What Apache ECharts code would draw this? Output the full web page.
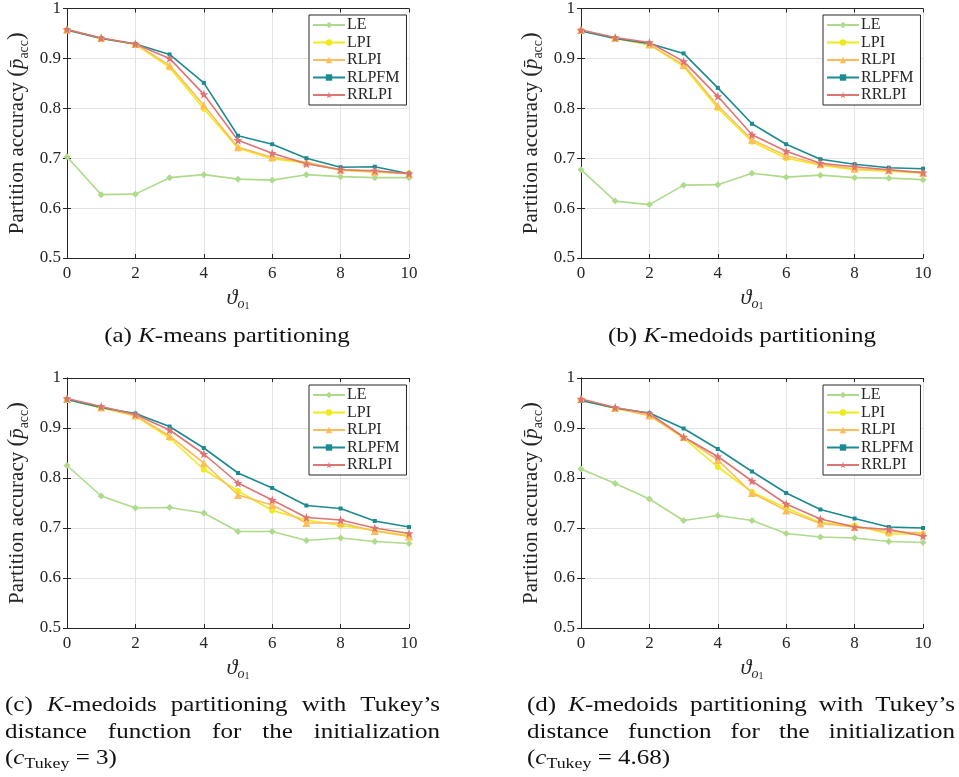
<!DOCTYPE html>
<html>
<head>
<meta charset="utf-8">
<script src="https://cdn.jsdelivr.net/npm/echarts@6/dist/echarts.min.js"></script>
<style>
html,body{margin:0;padding:0;background:#fff;}
#chart{width:959px;height:777px;}
</style>
</head>
<body>
<div id="chart"></div>
<script>
// ---------------- DATA ----------------
const thetaValues = [0, 1, 2, 3, 4, 5, 6, 7, 8, 9, 10];
const methodNames = ['LE', 'LPI', 'RLPI', 'RLPFM', 'RRLPI'];

// (a) K-means partitioning
const kmeansLE    = [0.703, 0.627, 0.628, 0.661, 0.667, 0.658, 0.656, 0.667, 0.663, 0.661, 0.661];
const kmeansLPI   = [0.957, 0.940, 0.928, 0.882, 0.799, 0.720, 0.699, 0.690, 0.676, 0.672, 0.670];
const kmeansRLPI  = [0.958, 0.941, 0.929, 0.886, 0.806, 0.722, 0.702, 0.692, 0.677, 0.673, 0.669];
const kmeansRLPFM = [0.957, 0.940, 0.929, 0.908, 0.851, 0.745, 0.728, 0.700, 0.682, 0.683, 0.669];
const kmeansRRLPI = [0.958, 0.941, 0.929, 0.900, 0.828, 0.736, 0.710, 0.689, 0.677, 0.675, 0.669];

// (b) K-medoids partitioning
const kmedLE    = [0.677, 0.614, 0.607, 0.646, 0.647, 0.670, 0.662, 0.666, 0.661, 0.660, 0.657];
const kmedLPI   = [0.956, 0.940, 0.927, 0.884, 0.800, 0.733, 0.700, 0.686, 0.677, 0.674, 0.670];
const kmedRLPI  = [0.957, 0.941, 0.928, 0.887, 0.805, 0.737, 0.705, 0.688, 0.679, 0.676, 0.671];
const kmedRLPFM = [0.955, 0.940, 0.930, 0.910, 0.841, 0.769, 0.728, 0.698, 0.688, 0.681, 0.679];
const kmedRRLPI = [0.957, 0.942, 0.932, 0.894, 0.824, 0.747, 0.714, 0.690, 0.683, 0.677, 0.671];

// (c) K-medoids, Tukey init c = 3
const tukey3LE    = [0.825, 0.764, 0.740, 0.741, 0.730, 0.693, 0.693, 0.675, 0.680, 0.673, 0.669];
const tukey3LPI   = [0.957, 0.940, 0.924, 0.880, 0.817, 0.774, 0.735, 0.716, 0.705, 0.695, 0.685];
const tukey3RLPI  = [0.958, 0.941, 0.925, 0.884, 0.830, 0.766, 0.746, 0.710, 0.710, 0.694, 0.683];
const tukey3RLPFM = [0.957, 0.941, 0.929, 0.903, 0.860, 0.810, 0.780, 0.745, 0.739, 0.714, 0.702];
const tukey3RRLPI = [0.959, 0.943, 0.927, 0.896, 0.848, 0.790, 0.756, 0.721, 0.716, 0.700, 0.689];

// (d) K-medoids, Tukey init c = 4.68
const tukey468LE    = [0.818, 0.789, 0.758, 0.715, 0.725, 0.715, 0.689, 0.682, 0.680, 0.673, 0.671];
const tukey468LPI   = [0.956, 0.939, 0.925, 0.880, 0.822, 0.772, 0.740, 0.711, 0.705, 0.688, 0.688];
const tukey468RLPI  = [0.958, 0.940, 0.925, 0.882, 0.836, 0.770, 0.735, 0.709, 0.702, 0.693, 0.690];
const tukey468RLPFM = [0.955, 0.940, 0.930, 0.899, 0.858, 0.813, 0.770, 0.737, 0.719, 0.702, 0.700];
const tukey468RRLPI = [0.958, 0.941, 0.929, 0.882, 0.843, 0.794, 0.748, 0.718, 0.702, 0.697, 0.684];

const panelData = [
  [kmeansLE, kmeansLPI, kmeansRLPI, kmeansRLPFM, kmeansRRLPI],
  [kmedLE, kmedLPI, kmedRLPI, kmedRLPFM, kmedRRLPI],
  [tukey3LE, tukey3LPI, tukey3RLPI, tukey3RLPFM, tukey3RRLPI],
  [tukey468LE, tukey468LPI, tukey468RLPI, tukey468RLPFM, tukey468RRLPI]
];

// ---------------- STYLE ----------------
const FONT = '"Liberation Serif", "DejaVu Serif", serif';
const INK = '#262626';
const colors = ['#addb8b', '#eeea1c', '#fdbd5c', '#1b8a92', '#df7474'];
const starPath = 'path://M0,-10L2.35,-3.24L9.51,-3.09L3.8,1.24L5.88,8.09L0,4L-5.88,8.09L-3.8,1.24L-9.51,-3.09L-2.35,-3.24Z';
const symbols = ['diamond', 'circle', 'triangle', 'rect', starPath];
const symbolSizes = [7, 6, 8, 4, 9];

const panels = [
  {left: 67, top: 8},
  {left: 581, top: 8},
  {left: 67, top: 378},
  {left: 581, top: 378}
];
const PW = 342, PH = 250;

const grids = [], xAxes = [], yAxes = [], series = [], legends = [];
panels.forEach((p, i) => {
  grids.push({left: p.left, top: p.top, width: PW, height: PH, show: false});
  const axisLine = {show: true, lineStyle: {color: INK, width: 1}};
  const tick = {show: true, inside: true, length: 4, lineStyle: {color: INK}};
  xAxes.push({
    type: 'value', gridIndex: i, min: 0, max: 10, interval: 2, position: 'bottom',
    axisLine, axisTick: tick,
    axisLabel: {color: INK, fontFamily: FONT, fontSize: 17, margin: 7},
    splitLine: {show: true, lineStyle: {color: '#e3e3e3', width: 1}},
    name: '{t|ϑ}{s|o}{ss|1}', nameLocation: 'middle', nameGap: 27,
    nameTextStyle: {
      rich: {
        t: {fontFamily: FONT, fontStyle: 'italic', fontSize: 22, lineHeight: 26, color: INK},
        s: {fontFamily: FONT, fontStyle: 'italic', fontSize: 14, lineHeight: 14, verticalAlign: 'bottom', color: INK},
        ss: {fontFamily: FONT, fontSize: 10, lineHeight: 8, verticalAlign: 'bottom', color: INK}
      }
    }
  });
  xAxes.push({
    type: 'value', gridIndex: i, min: 0, max: 10, interval: 2, position: 'top',
    axisLine, axisTick: tick, axisLabel: {show: false}, splitLine: {show: false}
  });
  yAxes.push({
    type: 'value', gridIndex: i, min: 0.5, max: 1, interval: 0.1, position: 'left',
    axisLine, axisTick: tick,
    axisLabel: {color: INK, fontFamily: FONT, fontSize: 17, margin: 6},
    splitLine: {show: true, lineStyle: {color: '#e3e3e3', width: 1}},
    name: '{n|Partition accuracy }{b|(}{p|p̄}{s|acc}{b|)}', nameLocation: 'middle', nameGap: 36, nameRotate: 90,
    nameTextStyle: {
      rich: {
        n: {fontFamily: FONT, fontSize: 21, lineHeight: 28, color: INK},
        b: {fontFamily: FONT, fontSize: 23, lineHeight: 28, color: INK},
        p: {fontFamily: FONT, fontStyle: 'italic', fontSize: 21, lineHeight: 28, color: INK},
        s: {fontFamily: FONT, fontSize: 14, lineHeight: 14, verticalAlign: 'bottom', color: INK}
      }
    }
  });
  yAxes.push({
    type: 'value', gridIndex: i, min: 0.5, max: 1, interval: 0.1, position: 'right',
    axisLine, axisTick: tick, axisLabel: {show: false}, splitLine: {show: false}
  });
  methodNames.forEach((name, k) => {
    series.push({
      name, type: 'line', xAxisIndex: 2 * i, yAxisIndex: 2 * i,
      data: thetaValues.map((x, j) => [x, panelData[i][k][j]]),
      symbol: symbols[k], symbolSize: symbolSizes[k], showSymbol: true,
      lineStyle: {color: colors[k], width: 1.6},
      itemStyle: {color: colors[k]},
      emphasis: {disabled: true},
      animation: false
    });
  });
  legends.push({
    data: methodNames, orient: 'vertical',
    left: p.left + 242, top: p.top + 7,
    backgroundColor: '#fff', borderColor: INK, borderWidth: 1, borderRadius: 0,
    padding: [2, 7, 2, 3], itemGap: 1.5, itemWidth: 32, itemHeight: 8,
    textStyle: {fontFamily: FONT, fontSize: 16, lineHeight: 16, color: INK, padding: [0, 0, 0, -3]},
    selectedMode: false
  });
});

// ---------------- CAPTIONS ----------------
const ctx = document.createElement('canvas').getContext('2d');
const CAP = 21;      // caption font size
const SX = 1.19;     // horizontal widening to match the reference's wide serif face
function segFont(seg) {
  const size = seg.sub ? 15 : CAP;
  return (seg.i ? 'italic ' : '') + size + 'px ' + FONT;
}
function segWidth(seg) { ctx.font = segFont(seg); return ctx.measureText(seg.t).width * SX; }
function wordWidth(word) { return word.reduce((s, g) => s + segWidth(g), 0); }
const graphics = [];
function placeWord(word, x, y) {
  word.forEach(seg => {
    graphics.push({
      type: 'text', x: x, y: y + (seg.sub ? 6 : 0), scaleX: SX, silent: true,
      style: {text: seg.t, font: segFont(seg), fill: '#111', verticalAlign: 'middle', align: 'left'}
    });
    x += segWidth(seg);
  });
}
function spaceWidth() { ctx.font = CAP + 'px ' + FONT; return ctx.measureText(' ').width * SX; }
function lineJustified(words, x0, x1, y) {
  const total = words.reduce((s, w) => s + wordWidth(w), 0);
  const gap = (x1 - x0 - total) / (words.length - 1);
  let x = x0;
  words.forEach(w => { placeWord(w, x, y); x += wordWidth(w) + gap; });
}
function lineLeft(words, x0, y) {
  let x = x0;
  const sp = spaceWidth();
  words.forEach(w => { placeWord(w, x, y); x += wordWidth(w) + sp; });
}
function lineCentered(words, cx, y) {
  const sp = spaceWidth();
  const total = words.reduce((s, w) => s + wordWidth(w), 0) + sp * (words.length - 1);
  lineLeft(words, cx - total / 2, y);
}
const W = t => [{t}];
lineCentered([W('(a)'), [{t: 'K', i: true}, {t: '-means'}], W('partitioning')], 227, 336);
lineCentered([W('(b)'), [{t: 'K', i: true}, {t: '-medoids'}], W('partitioning')], 742, 336);
[[5, 440, '(c)', '3'], [527, 955, '(d)', '4.68']].forEach(([x0, x1, tag, c]) => {
  lineJustified([W(tag), [{t: 'K', i: true}, {t: '-medoids'}], W('partitioning'), W('with'), W('Tukey’s')], x0, x1, 705);
  lineJustified([W('distance'), W('function'), W('for'), W('the'), W('initialization')], x0, x1, 732);
  placeWord([{t: '('}, {t: 'c', i: true}, {t: 'Tukey', sub: true}, {t: ' = ' + c + ')'}], x0, 758);
});

const chart = echarts.init(document.getElementById('chart'), null, {renderer: 'canvas'});
chart.setOption({
  animation: false,
  backgroundColor: '#fff',
  grid: grids, xAxis: xAxes, yAxis: yAxes, series, legend: legends,
  graphic: graphics
});
</script>
</body>
</html>
